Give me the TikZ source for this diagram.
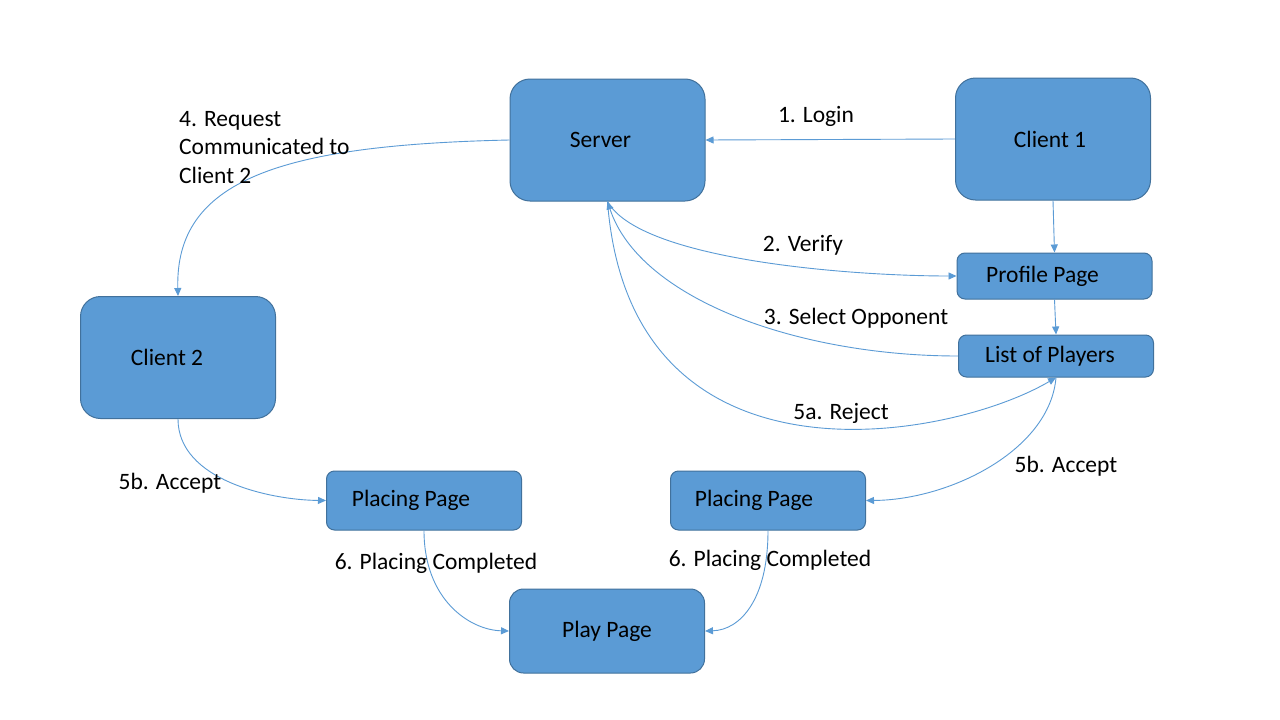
\documentclass[tikz,border=0pt]{standalone}
\usepackage{fontspec}
\setmainfont{Carlito}
\usetikzlibrary{arrows.meta}
\definecolor{boxfill}{HTML}{5B9BD5}
\definecolor{boxline}{HTML}{41719C}
\definecolor{arrowc}{HTML}{5B9BD5}
\newcommand{\shiftleft}[2]{\hspace*{-#1}#2}
\begin{document}
\begin{tikzpicture}[x=1pt,y=-1pt,
  every node/.style={font=\fontsize{23.5}{28.5}\selectfont, text=black},
  bigbox/.style={draw=boxline, fill=boxfill, line width=1pt, rounded corners=20pt, minimum width=195pt, inner sep=0pt},
  smallbox/.style={draw=boxline, fill=boxfill, line width=1pt, rounded corners=8pt, minimum width=195pt, inner sep=0pt},
  conn/.style={draw=arrowc, line width=0.9pt, -{Triangle[length=8pt,width=7pt]}},
  lbl/.style={inner sep=0pt, anchor=center}
]
\path[use as bounding box, fill=white] (0,0) rectangle (1280,720);

% nodes
\node[bigbox, minimum height=122pt] (server) at (607.5,140) {\shiftleft{14pt}{Server}};
\node[bigbox, minimum height=122pt] (client1) at (1053,139) {\shiftleft{6pt}{Client 1}};
\node[bigbox, minimum height=122pt] (client2) at (178,357.5) {\shiftleft{22pt}{Client 2}};
\node[smallbox, minimum height=46pt] (profile) at (1054.5,276) {\shiftleft{24pt}{Profile Page}};
\node[smallbox, minimum height=42pt] (list) at (1056,356) {\shiftleft{12pt}{List of Players}};
\node[smallbox, minimum height=59pt] (placeL) at (424,500.5) {\shiftleft{26pt}{Placing Page}};
\node[smallbox, minimum height=59pt] (placeR) at (768,500.5) {\shiftleft{28pt}{Placing Page}};
\node[bigbox, minimum height=84pt, rounded corners=14pt] (play) at (607,631) {Play Page};

% connectors
\draw[conn] (client1.west) -- (server.east);
\draw[conn] (client1.south) -- (profile.north);
\draw[conn] (profile.south) -- (list.north);
\draw[conn] (server.south) .. controls (640,260) and (850,276) .. (profile.west);
\draw[conn] (list.west) .. controls (800,356) and (640,300) .. (server.south);
\draw[conn] (server.south) .. controls (630,500) and (950,440) .. (list.south);
\draw[conn] (list.south) .. controls (1050,450) and (950,500) .. (placeR.east);
\draw[conn] (server.west) .. controls (280,145) and (175,180) .. (client2.north);
\draw[conn] (client2.south) .. controls (178,480) and (270,500) .. (placeL.west);
\draw[conn] (placeL.south) .. controls (424,600) and (470,630) .. (play.west);
\draw[conn] (placeR.south) .. controls (768,600) and (740,630) .. (play.east);

% labels
\node[lbl] (l1) at (816,116) {1. Login};
\node[lbl] (l2) at (803,245) {2. Verify};
\node[lbl] (l3) at (856,318) {3. Select Opponent};
\node[lbl, anchor=north west, align=left] (l4) at (179,111) {4. Request\\Communicated to\\Client 2};
\node[lbl] (l5a) at (841,413) {5a. Reject};
\node[lbl] (l5bR) at (1066,466) {5b. Accept};
\node[lbl] (l5bL) at (170,483) {5b. Accept};
\node[lbl] (l6L) at (436,563) {6. Placing Completed};
\node[lbl] (l6R) at (770,560) {6. Placing Completed};
\end{tikzpicture}
\end{document}
